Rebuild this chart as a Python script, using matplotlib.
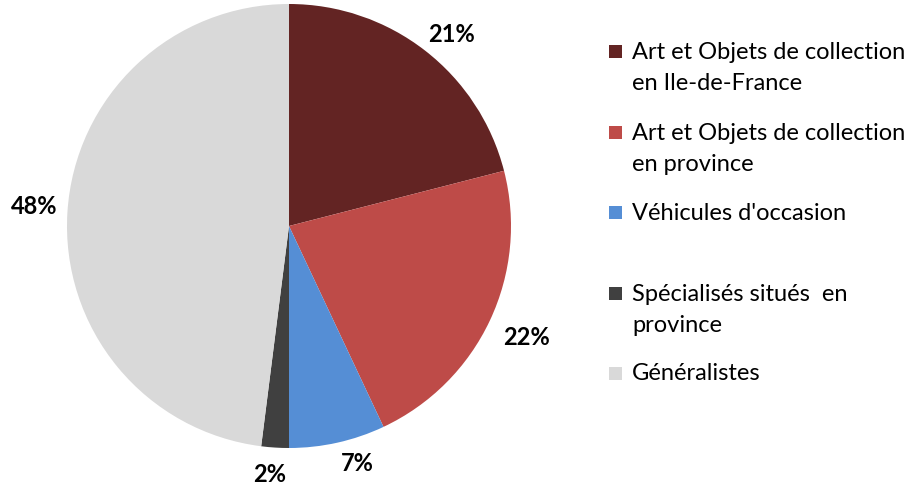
import matplotlib
matplotlib.use("Agg")
import matplotlib.pyplot as plt
from matplotlib.patches import Rectangle
import numpy as np

categories = ["Art et Objets de collection\nen Ile-de-France",
              "Art et Objets de collection\nen province",
              "Véhicules d'occasion",
              "Spécialisés situés  en\nprovince",
              "Généralistes"]
values = [21, 22, 7, 2, 48]
pct_labels = ["21%", "22%", "7%", "2%", "48%"]
colors = ["#632423", "#BE4B48", "#558ED5", "#404040", "#D9D9D9"]

plt.rcParams['font.family'] = ['Lato', 'DejaVu Sans']

W, H = 915, 489
fig = plt.figure(figsize=(W/100, H/100), dpi=100)
ax = fig.add_axes([67/W, (H-449)/H, 444/W, 444/H])
wedges, _ = ax.pie(values, colors=colors, startangle=90, counterclock=False,
                   radius=1.0, wedgeprops=dict(linewidth=0))
ax.set_xlim(-1, 1)
ax.set_ylim(-1, 1)
ax.set_aspect('equal')

label_dist = [1.135, 1.18, 1.11, 1.12, 1.15]
label_angle_offset = [-2.5, 0.2, 3.4, -0.8, -0.9]
for w, lab, d, off in zip(wedges, pct_labels, label_dist, label_angle_offset):
    ang = np.deg2rad((w.theta1 + w.theta2) / 2 + off)
    ax.text(d*np.cos(ang), d*np.sin(ang), lab, ha='center', va='center',
            fontsize=17, fontweight='bold', color='black', clip_on=False)

# manual legend
leg_y = [52, 133, 213, 294, 374]  # first-line centers in pixels
for cat, col, y in zip(categories, colors, leg_y):
    fig.patches.append(Rectangle((609/W, (H - y - 7)/H), 13/W, 13/H,
                                 transform=fig.transFigure, facecolor=col,
                                 edgecolor='none'))
    yc = y + 16 if '\n' in cat else y
    fig.text(632/W, (H - yc)/H, cat, ha='left', va='center',
             fontsize=17, linespacing=1.62, color='black')

fig.savefig("out.png", dpi=100)
